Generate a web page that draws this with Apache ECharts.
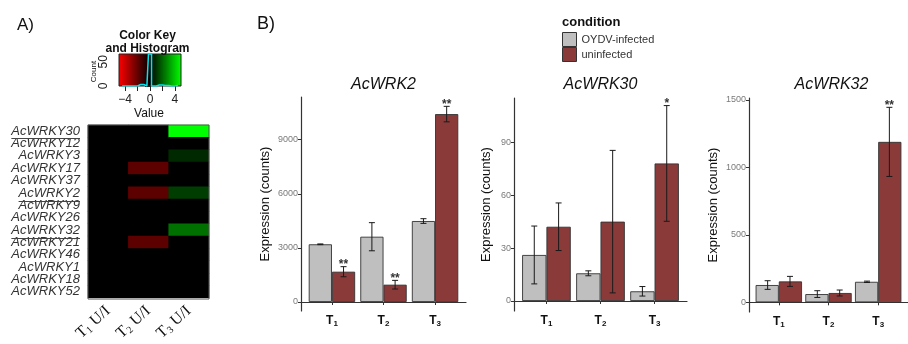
<!DOCTYPE html>
<html><head><meta charset="utf-8">
<script src="https://cdn.jsdelivr.net/npm/echarts@6/dist/echarts.min.js"></script>
<style>html,body{margin:0;padding:0;background:#fff}#c{width:908px;height:344px}</style>
</head><body><div id="c"></div>
<script>
// ---------- DATA ----------
const genes = ['AcWRKY30','AcWRKY12','AcWRKY3','AcWRKY17','AcWRKY37','AcWRKY2','AcWRKY9','AcWRKY26','AcWRKY32','AcWRKY21','AcWRKY46','AcWRKY1','AcWRKY18','AcWRKY52'];
const overlined = ['AcWRKY12','AcWRKY9','AcWRKY21'];
const heatLabels = ['T1 U/I','T2 U/I','T3 U/I'];
const heatT1 = [0,0,0,0,0,0,0,0,0,0,0,0,0,0];
const heatT2 = [0,0,0,-1.8,0,-1.8,0,0,0,-1.8,0,0,0,0];
const heatT3 = [5,0,0.8,0,0,1.2,0,0,2.2,0,0,0,0,0];
const keyColors = ['#ff0000','#000000','#00ff00'];
const keyMin = -5, keyMax = 5;
const keyTicks = [-4,0,4];
const keyMinorTicks = [-4,-2,0,2,4];
const countMax = 66;
const countTicks = [0,50];
const countMinorTicks = [0,10,20,30,40,50];
const histValue = [-4.5,-3.5,-2.5,-1.5,-0.5,0,0.5,1.5,2.5,3.5,4.5];
const histCount = [0,0,0,3,0,66,0,2,1,0,1];

const categories = ['T1','T2','T3'];
const panelTitles = ['AcWRK2','AcWRK30','AcWRK32'];
const seriesNames = ['OYDV-infected','uninfected'];
const wrk2Infected = [3200, 3620, 4490];
const wrk2InfectedErr = [20, 780, 130];
const wrk2Uninfected = [1680, 960, 10420];
const wrk2UninfectedErr = [280, 240, 430];
const wrk2Sig = ['**','**','**'];
const wrk30Infected = [26.1, 15.7, 5.5];
const wrk30InfectedErr = [16.4, 1.4, 2.7];
const wrk30Uninfected = [42.1, 45, 78];
const wrk30UninfectedErr = [13.5, 40.4, 32.8];
const wrk30Sig = ['','','*'];
const wrk32Infected = [128, 61, 152];
const wrk32InfectedErr = [32, 25, 5];
const wrk32Uninfected = [155, 69, 1188];
const wrk32UninfectedErr = [37, 22, 256];
const wrk32Sig = ['','','**'];
const wrk2Ticks = [0,3000,6000,9000];
const wrk30Ticks = [0,30,60,90];
const wrk32Ticks = [0,500,1000,1500];

// ---------- LAYOUT ----------
const FONT = "'Liberation Sans', Arial, sans-serif";
const SERIF = "'Liberation Serif', 'Times New Roman', serif";
const heat = {left:88, top:125, width:121, height:174};
const key = {left:119, top:54, width:62, height:32};
const panels = [
  {left:301, top:97, width:165, height:214, min:-499, max:11368, ticks:wrk2Ticks, nameGap:29,
   inf:wrk2Infected, infErr:wrk2InfectedErr, un:wrk2Uninfected, unErr:wrk2UninfectedErr, sig:wrk2Sig},
  {left:514, top:98, width:173, height:213, min:-5.67, max:115.1, ticks:wrk30Ticks, nameGap:21,
   inf:wrk30Infected, infErr:wrk30InfectedErr, un:wrk30Uninfected, unErr:wrk30UninfectedErr, sig:wrk30Sig},
  {left:749, top:98, width:165, height:214, min:-71.7, max:1513, ticks:wrk32Ticks, nameGap:29,
   inf:wrk32Infected, infErr:wrk32InfectedErr, un:wrk32Uninfected, unErr:wrk32UninfectedErr, sig:wrk32Sig}
];
const xMin = 0.4, xMax = 3.6, dodge = 0.9;
const barColors = ['#bfbfbf', '#8b3a3a'];
const noSplit = {show:false};

const grids = [Object.assign({show:true, backgroundColor:'#000', borderWidth:0}, heat), key]
  .concat(panels.map(p => ({left:p.left, top:p.top, width:p.width, height:p.height})));

const xAxes = [
  {type:'category', gridIndex:0, data:heatLabels, axisLine:{show:false}, axisTick:{show:false}, splitLine:noSplit,
   axisLabel:{rotate:42, margin:11, interval:0, color:'#111',
     formatter: v => '{a|' + v[0] + '}{b|' + v[1] + '}{a|' + v.slice(2) + '}',
     rich:{a:{fontFamily:SERIF, fontSize:16, color:'#111', lineHeight:17},
           b:{fontFamily:SERIF, fontSize:10, color:'#111', lineHeight:10, verticalAlign:'bottom'}}}},
  {type:'value', gridIndex:1, min:keyMin, max:keyMax, splitLine:noSplit, axisLine:{show:false},
   axisTick:{show:true, customValues:keyMinorTicks, length:5, lineStyle:{color:'#222'}},
   axisLabel:{customValues:keyTicks, margin:8, fontSize:12, fontFamily:FONT, color:'#222',
     formatter: v => String(v).replace('-', '\u2212')}}
];
const yAxes = [
  {type:'category', gridIndex:0, data:genes, inverse:true, axisLine:{show:false}, axisTick:{show:false}, splitLine:noSplit,
   axisLabel:{margin:8, interval:0, fontSize:13, fontStyle:'italic', fontFamily:FONT, color:'#333'}},
  {type:'value', gridIndex:1, min:0, max:countMax, splitLine:noSplit, axisLine:{show:false},
   axisTick:{show:true, customValues:countMinorTicks, length:5, lineStyle:{color:'#222'}},
   axisLabel:{customValues:countTicks, rotate:90, margin:9, fontSize:12, fontFamily:FONT, color:'#222',
     formatter: v => String(v)}}
];
panels.forEach((p, k) => {
  xAxes.push({type:'value', gridIndex:k+2, min:xMin, max:xMax, splitLine:noSplit,
    axisLine:{lineStyle:{color:'#333', width:1.2}},
    axisTick:{customValues:categories.map((c,i)=>i+1), length:3, lineStyle:{color:'#333'}},
    axisLabel:{customValues:categories.map((c,i)=>i+1), margin:3,
      formatter: v => { const c = categories[Math.round(v)-1] || ''; return '{t|' + c[0] + '}{s|' + c.slice(1) + '}'; },
      rich:{t:{fontFamily:FONT, fontSize:12, fontWeight:'bold', color:'#111', lineHeight:14},
            s:{fontFamily:FONT, fontSize:8, fontWeight:'bold', color:'#111', lineHeight:9, verticalAlign:'bottom'}}}});
  yAxes.push({type:'value', gridIndex:k+2, min:p.min, max:p.max, splitLine:noSplit,
    axisLine:{show:true, lineStyle:{color:'#333', width:1.2}},
    axisTick:{show:true, customValues:p.ticks, length:3, lineStyle:{color:'#333'}},
    axisLabel:{customValues:p.ticks, margin:3, fontSize:9, fontFamily:FONT, color:'#7a7a7a', formatter: v => String(v)},
    name:'Expression (counts)', nameLocation:'middle', nameGap:p.nameGap,
    nameTextStyle:{fontSize:13, fontFamily:FONT, color:'#111'}});
});

const heatData = [];
[heatT1, heatT2, heatT3].forEach((col, c) => col.forEach((v, r) => heatData.push([c, r, v])));

const series = [
  {type:'heatmap', xAxisIndex:0, yAxisIndex:0, data:heatData, itemStyle:{borderWidth:0}},
  {type:'custom', xAxisIndex:1, yAxisIndex:1, data:[[keyMin, countMax]], silent:true,
   renderItem:(params, api) => {
     const a = api.coord([keyMin, countMax]), b = api.coord([keyMax, 0]);
     return {type:'rect', shape:{x:a[0], y:a[1], width:b[0]-a[0], height:b[1]-a[1]},
       style:{fill:new echarts.graphic.LinearGradient(0,0,1,0, keyColors.map((c,i)=>({offset:i/(keyColors.length-1), color:c}))),
              stroke:'#222', lineWidth:1}};
   }},
  {type:'line', xAxisIndex:1, yAxisIndex:1, data:histValue.map((v,i)=>[v, histCount[i]]), step:'middle',
   symbol:'none', lineStyle:{color:'#00e5ee', width:1.5}, z:5}
];

panels.forEach((p, k) => {
  const unit = p.width / (xMax - xMin);
  const bw = unit * dodge / 2;
  const vals = [p.inf, p.un], errs = [p.infErr, p.unErr];
  vals.forEach((arr, s) => {
    series.push({type:'bar', name:seriesNames[s], xAxisIndex:k+2, yAxisIndex:k+2, barWidth:bw, barGap:'0%',
      data:arr.map((v,i)=>[i+1, v]),
      itemStyle:{color:barColors[s], borderColor:'#333', borderWidth:0.9}});
  });
  vals.forEach((arr, s) => {
    const off = (s === 0 ? -1 : 1) * dodge / 4;
    const sigs = s === 1 ? p.sig : [];
    series.push({type:'custom', xAxisIndex:k+2, yAxisIndex:k+2, silent:true, z:5,
      data:arr.map((v,i)=>[i+1, v, errs[s][i]]),
      renderItem:(params, api) => {
        const i = params.dataIndex;
        const x = api.value(0) + off, v = api.value(1), e = api.value(2);
        const t = api.coord([x, v+e]), b = api.coord([x, v-e]);
        const cap = 3, st = {stroke:'#1a1a1a', lineWidth:1};
        const ch = [
          {type:'line', shape:{x1:t[0], y1:t[1], x2:b[0], y2:b[1]}, style:st},
          {type:'line', shape:{x1:t[0]-cap, y1:t[1], x2:t[0]+cap, y2:t[1]}, style:st},
          {type:'line', shape:{x1:b[0]-cap, y1:b[1], x2:b[0]+cap, y2:b[1]}, style:st}
        ];
        if (sigs[i]) ch.push({type:'text', style:{text:sigs[i], x:t[0], y:t[1]-2, textAlign:'center', align:'center',
          textVerticalAlign:'middle', verticalAlign:'middle', font:'bold 12px ' + FONT, fill:'#333'}});
        return {type:'group', children:ch};
      }});
  });
});

// ---------- ANNOTATIONS ----------
function txt(text, x, y, font, opts) {
  opts = opts || {};
  return {type:'text', x:x, y:y, rotation:opts.rotation || 0, z:100, silent:true,
    style:{text:text, font:font, fill:opts.fill || '#111', textAlign:opts.align || 'left', align:opts.align || 'left',
           textVerticalAlign:'middle', verticalAlign:'middle'}};
}
const graphics = [
  txt('A)', 17, 25, '17px ' + FONT),
  txt('B)', 257, 24, '18px ' + FONT),
  txt('Color Key', 147.5, 36, 'bold 12px ' + FONT, {align:'center'}),
  txt('and Histogram', 147.5, 48.5, 'bold 12px ' + FONT, {align:'center'}),
  txt('Count', 93.5, 71.5, '8px ' + FONT, {align:'center', rotation:Math.PI/2}),
  txt('Value', 149, 114, '12px ' + FONT, {align:'center'}),
  txt('condition', 562, 22, 'bold 13px ' + FONT),
  {type:'rect', z:100, silent:true, shape:{x:heat.left, y:heat.top, width:heat.width, height:heat.height},
   style:{fill:null, stroke:'#555', lineWidth:1}}
];
panels.forEach((p, k) => graphics.push(txt(panelTitles[k], p.left + p.width/2, 85, 'italic 16px ' + FONT, {align:'center'})));
const ctx = document.createElement('canvas').getContext('2d');
ctx.font = 'italic 13px ' + FONT;
const rowH = heat.height / genes.length;
overlined.forEach(g => {
  const r = genes.indexOf(g);
  const w = ctx.measureText(g).width;
  const x2 = heat.left - 8, y = Math.round(heat.top + r * rowH + 1) + 0.5;
  graphics.push({type:'line', z:100, silent:true, shape:{x1:x2 - w, y1:y, x2:x2, y2:y}, style:{stroke:'#444', lineWidth:1}});
});

const chart = echarts.init(document.getElementById('c'));
chart.setOption({
  animation:false,
  textStyle:{fontFamily:FONT},
  grid:grids,
  xAxis:xAxes,
  yAxis:yAxes,
  visualMap:{type:'continuous', show:false, min:keyMin, max:keyMax, seriesIndex:0, inRange:{color:keyColors}},
  legend:{data:seriesNames, left:562, top:32, orient:'vertical', padding:0, itemGap:0, itemWidth:14, itemHeight:14,
    icon:'rect', itemStyle:{borderColor:'#333', borderWidth:1}, textStyle:{fontSize:11, color:'#333', fontFamily:FONT}},
  series:series,
  graphic:graphics
});
</script></body></html>
